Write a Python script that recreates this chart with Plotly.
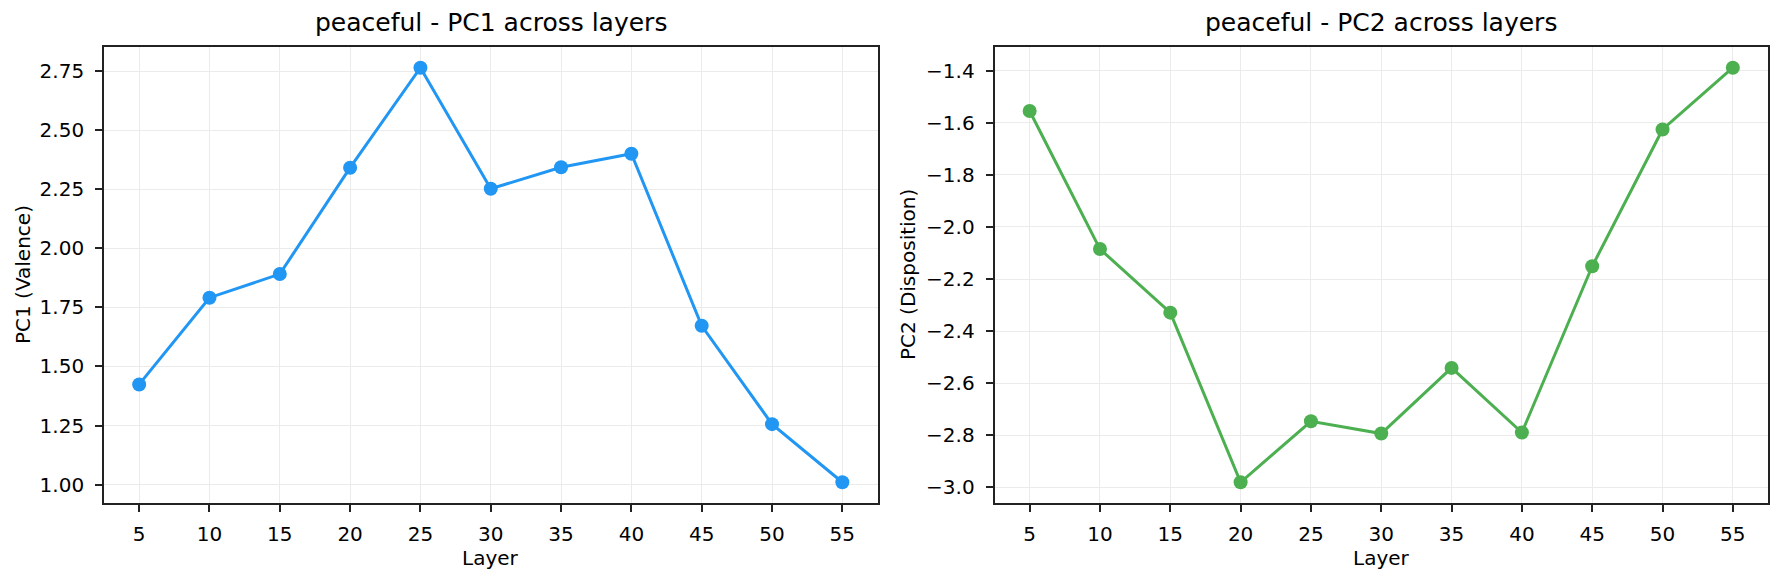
import plotly.graph_objects as go
from plotly.subplots import make_subplots

# layers and principal-component scores
layers = [5, 10, 15, 20, 25, 30, 35, 40, 45, 50, 55]
pc1_valence = [1.424, 1.791, 1.891, 2.341, 2.764, 2.252, 2.343, 2.400, 1.672, 1.256, 1.010]
pc2_disposition = [-1.555, -2.085, -2.329, -2.980, -2.746, -2.793, -2.541, -2.789, -2.151, -1.626, -1.389]

titles = ["peaceful - PC1 across layers", "peaceful - PC2 across layers"]
y_titles = ["PC1 (Valence)", "PC2 (Disposition)"]
colors = ["#2196F3", "#4CAF50"]

FONT = "DejaVu Sans"
# the page body adds an 8px margin, so the figure is made 8px smaller
W, H = 1776, 573
ML, MR, MT, MB = 96, 16, 39, 78
plot_w = W - ML - MR
plot_h = H - MT - MB


def padded(vals, frac=0.05):
    lo, hi = min(vals), max(vals)
    pad = (hi - lo) * frac
    return [lo - pad, hi + pad]


fig = make_subplots(rows=1, cols=2, horizontal_spacing=(995 - 878) / plot_w)

for i, (vals, col) in enumerate(zip([pc1_valence, pc2_disposition], colors)):
    fig.add_trace(go.Scatter(
        x=layers, y=vals, mode="lines+markers",
        line=dict(color=col, width=3),
        marker=dict(color=col, size=14),
        showlegend=False,
    ), row=1, col=i + 1)

axis_common = dict(
    showline=True, mirror=True, linecolor="#222222", linewidth=1.7,
    showgrid=True, gridcolor="#ebebeb", gridwidth=1.3,
    ticks="outside", ticklen=7, tickwidth=1.6, tickcolor="#222222",
    tickfont=dict(family=FONT, size=20, color="#000000"),
    zeroline=False,
)

for i in (1, 2):
    fig.update_xaxes(axis_common, range=padded(layers), tickvals=layers,
                     ticklabelstandoff=5, row=1, col=i)
fig.update_yaxes(axis_common, range=padded(pc1_valence), dtick=0.25, tick0=0,
                 tickformat=".2f", ticklabelstandoff=7, row=1, col=1)
fig.update_yaxes(axis_common, range=padded(pc2_disposition), dtick=0.2, tick0=0,
                 tickformat=".1f", ticklabelstandoff=7, row=1, col=2)

# titles and axis labels placed as annotations (pixel offsets from the plot area)
dom1 = fig.layout.xaxis.domain
dom2 = fig.layout.xaxis2.domain
annotations = []
for dom, title, ytitle, ylab_px in [(dom1, titles[0], y_titles[0], 15),
                                    (dom2, titles[1], y_titles[1], 900)]:
    cx = (dom[0] + dom[1]) / 2
    annotations.append(dict(
        text=title, x=cx, y=1 + 25 / plot_h, xref="paper", yref="paper",
        xanchor="center", yanchor="middle", showarrow=False,
        font=dict(family=FONT, size=25, color="#000000"),
    ))
    annotations.append(dict(
        text="Layer", x=cx, y=-55 / plot_h, xref="paper", yref="paper",
        xanchor="center", yanchor="middle", showarrow=False,
        font=dict(family=FONT, size=20, color="#000000"),
    ))
    annotations.append(dict(
        text=ytitle, x=(ylab_px - ML) / plot_w, y=0.5, xref="paper", yref="paper",
        xanchor="center", yanchor="middle", textangle=-90, showarrow=False,
        font=dict(family=FONT, size=20, color="#000000"),
    ))

fig.update_layout(
    width=W, height=H,
    margin=dict(l=ML, r=MR, t=MT, b=MB),
    paper_bgcolor="white", plot_bgcolor="white",
    font=dict(family=FONT, color="#000000"),
    annotations=annotations,
    showlegend=False,
)

fig.write_html("out.html", config={"displayModeBar": False})
